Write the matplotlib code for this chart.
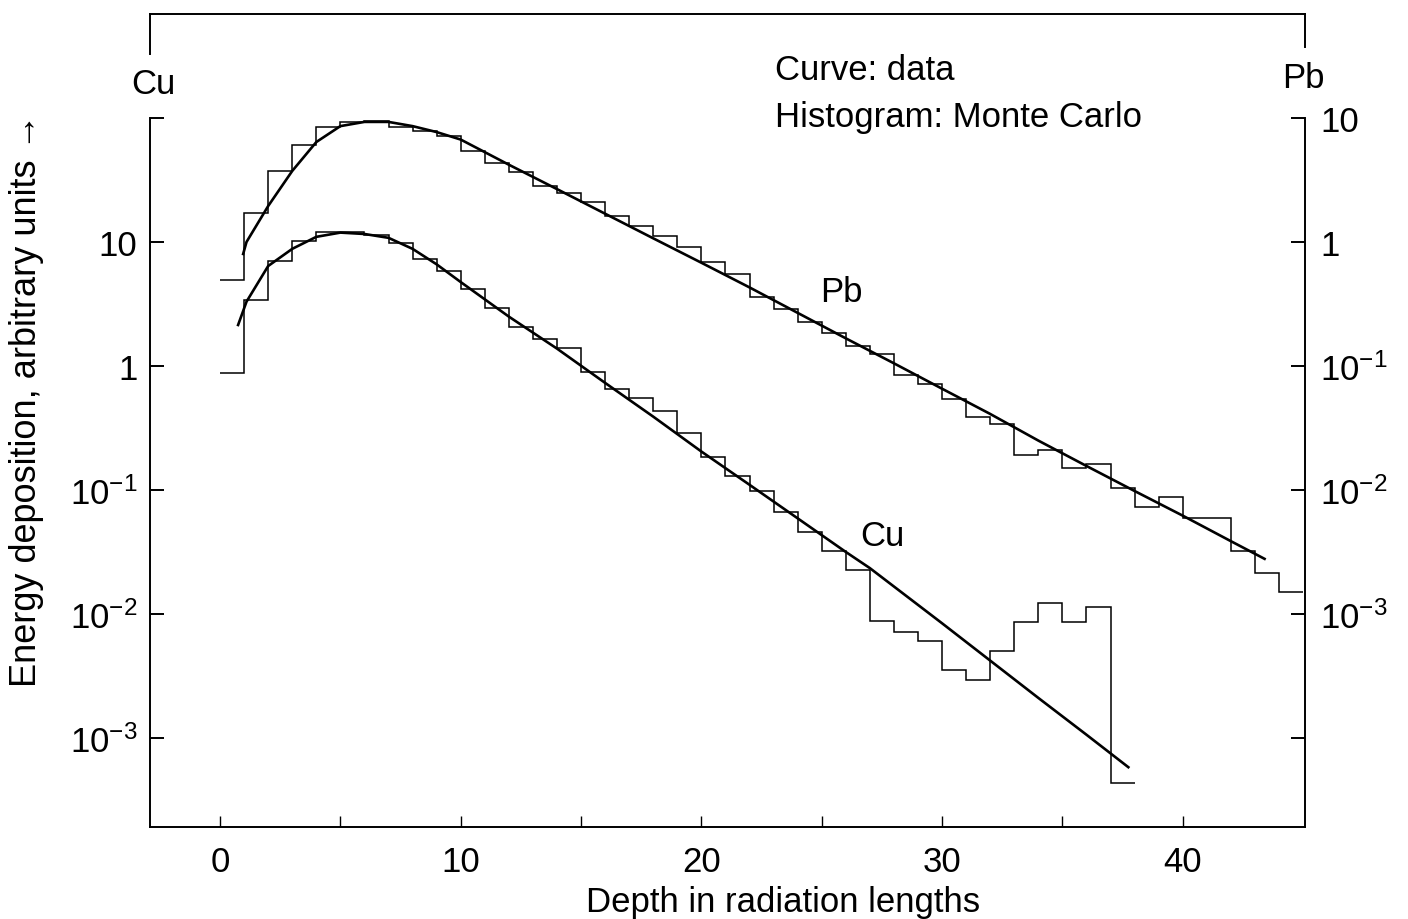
import numpy as np
import matplotlib
matplotlib.use('Agg')
import matplotlib.pyplot as plt
from matplotlib.lines import Line2D

plt.rcParams['font.family'] = ['Liberation Sans', 'DejaVu Sans']
plt.rcParams['mathtext.fontset'] = 'custom'
plt.rcParams['mathtext.rm'] = 'Liberation Sans'

# ==============================================================================
#                                     DATA
# ==============================================================================

# Monte Carlo histograms, 1 radiation length per bin
cu_edges = np.arange(0, 39)
cu_hist = [0.88, 3.4, 7.0, 10.2, 12.0, 12.0, 11.4, 9.8, 7.3, 5.8,
           4.2, 2.94, 2.07, 1.65, 1.40, 0.90, 0.655, 0.555, 0.43, 0.288,
           0.184, 0.13, 0.098, 0.066, 0.046, 0.032, 0.0227, 0.0088, 0.0072, 0.0061,
           0.00355, 0.00295, 0.0050, 0.0086, 0.0123, 0.0086, 0.0114, 0.00043]

pb_edges = np.arange(0, 46)
pb_hist = [0.494, 1.71, 3.74, 6.06, 8.45, 9.3, 9.4, 8.45, 7.85, 7.16,
           5.42, 4.34, 3.67, 2.83, 2.49, 2.10, 1.62, 1.35, 1.12, 0.91,
           0.69, 0.552, 0.36, 0.288, 0.226, 0.185, 0.145, 0.125, 0.0846, 0.0716,
           0.0542, 0.0388, 0.034, 0.019, 0.021, 0.015, 0.0162, 0.0104, 0.0073, 0.0088,
           0.0059, 0.0059, 0.0032, 0.00214, 0.0015]

# Measured curves
cu_depth = [0.75, 1.1, 2, 3, 4, 5, 6, 7, 8, 9, 10, 12, 14, 16, 18, 20,
            22, 24, 26, 27, 30, 32, 34, 36, 37.74]
cu_curve = [2.14, 3.3, 6.4, 8.8, 11.0, 11.9, 11.6, 10.8, 8.8, 6.6, 4.75, 2.5,
            1.38, 0.73, 0.39, 0.204, 0.110, 0.059, 0.0316, 0.0234, 0.0084,
            0.0042, 0.0021, 0.00106, 0.00058]

pb_depth = [0.96, 1.1, 2, 3, 4, 5, 6, 7, 8, 9, 10, 12, 14, 16, 18, 20, 22,
            24, 26, 28, 30, 32, 34, 36, 38, 40, 42, 43.4]
pb_curve = [0.80, 1.0, 1.95, 3.74, 6.4, 8.6, 9.3, 9.3, 8.6, 7.7, 6.7, 4.2,
            2.67, 1.69, 1.07, 0.68, 0.43, 0.268, 0.167, 0.105, 0.0655, 0.041,
            0.025, 0.0156, 0.0098, 0.0062, 0.00386, 0.00278]

x_ticks = np.arange(0, 41, 5)
cu_ticks = [1e-3, 1e-2, 1e-1, 1, 10, 100]
cu_ticklabels = [r'$\mathregular{10^{-3}}$', r'$\mathregular{10^{-2}}$',
                 r'$\mathregular{10^{-1}}$', '1', '10', '']
pb_ticks = [1e-4, 1e-3, 1e-2, 1e-1, 1, 10]
pb_ticklabels = ['', r'$\mathregular{10^{-3}}$', r'$\mathregular{10^{-2}}$',
                 r'$\mathregular{10^{-1}}$', '1', '10']

# ==============================================================================
#                                     PLOT
# ==============================================================================

W, H = 1408, 920
fig = plt.figure(figsize=(W / 100, H / 100), dpi=100)
ax = fig.add_axes([150 / W, 1 - 828 / H, (1305 - 150) / W, (828 - 119) / H])
ax2 = ax.twinx()

fs = 25
lw_ax = 1.4

# Cu (left scale)
ax.stairs(cu_hist, cu_edges, baseline=None, color='black', lw=1.1)
ax.plot(cu_depth, cu_curve, color='black', lw=1.9)
ax.set_yscale('log')
ax.set_ylim(1.91e-4, 100)
ax.set_xlim(-2.91, 45.08)

# Pb (right scale, one decade lower)
ax2.stairs(pb_hist, pb_edges, baseline=None, color='black', lw=1.1)
ax2.plot(pb_depth, pb_curve, color='black', lw=1.9)
ax2.set_yscale('log')
ax2.set_ylim(1.91e-5, 10)

ax.set_yticks(cu_ticks)
ax.set_yticklabels(cu_ticklabels)
ax.yaxis.set_minor_locator(plt.NullLocator())
ax2.set_yticks(pb_ticks)
ax2.set_yticklabels(pb_ticklabels)
ax2.yaxis.set_minor_locator(plt.NullLocator())

ax.set_xticks(x_ticks)
ax.set_xticklabels([str(t) if t % 10 == 0 else '' for t in x_ticks])

ax.tick_params(axis='y', direction='in', length=10, width=lw_ax, labelsize=fs, pad=9)
ax.tick_params(axis='x', direction='in', length=8, width=1.0, labelsize=fs, pad=13)
ax2.tick_params(axis='y', direction='in', length=10, width=lw_ax, labelsize=fs, pad=11)

for s in ['top', 'right']:
    ax.spines[s].set_visible(False)
for s in ['top', 'left', 'bottom']:
    ax2.spines[s].set_visible(False)
for s in ['left', 'bottom']:
    ax.spines[s].set_linewidth(lw_ax)
ax2.spines['right'].set_linewidth(lw_ax)

# Curve labels
ax.text(25.8, 3.97, 'Pb', fontsize=fs, ha='center', va='center')
ax.text(27.5, 0.0427, 'Cu', fontsize=fs, ha='center', va='center')

# Outer frame above the axes
for x0, y0, x1, y1 in [(150, 55, 150, 15), (150, 15, 1305, 15), (1305, 15, 1305, 48)]:
    fig.add_artist(Line2D([x0 / W, x1 / W], [1 - y0 / H, 1 - y1 / H],
                          transform=fig.transFigure, color='black', lw=lw_ax))

fig.text(153 / W, 1 - 85 / H, 'Cu', fontsize=fs, ha='center', va='center')
fig.text(1303 / W, 1 - 78 / H, 'Pb', fontsize=fs, ha='center', va='center')
fig.text(775 / W, 1 - 70 / H, 'Curve: data', fontsize=fs, ha='left', va='center')
fig.text(775 / W, 1 - 118 / H, 'Histogram: Monte Carlo', fontsize=fs, ha='left', va='center')

fig.text(783 / W, 1 - 903 / H, 'Depth in radiation lengths', fontsize=fs,
         ha='center', va='center')
fig.text(27 / W, 1 - 400 / H, 'Energy deposition, arbitrary units →', fontsize=26,
         ha='center', va='center', rotation=90)

plt.savefig('out.png', dpi=100)
